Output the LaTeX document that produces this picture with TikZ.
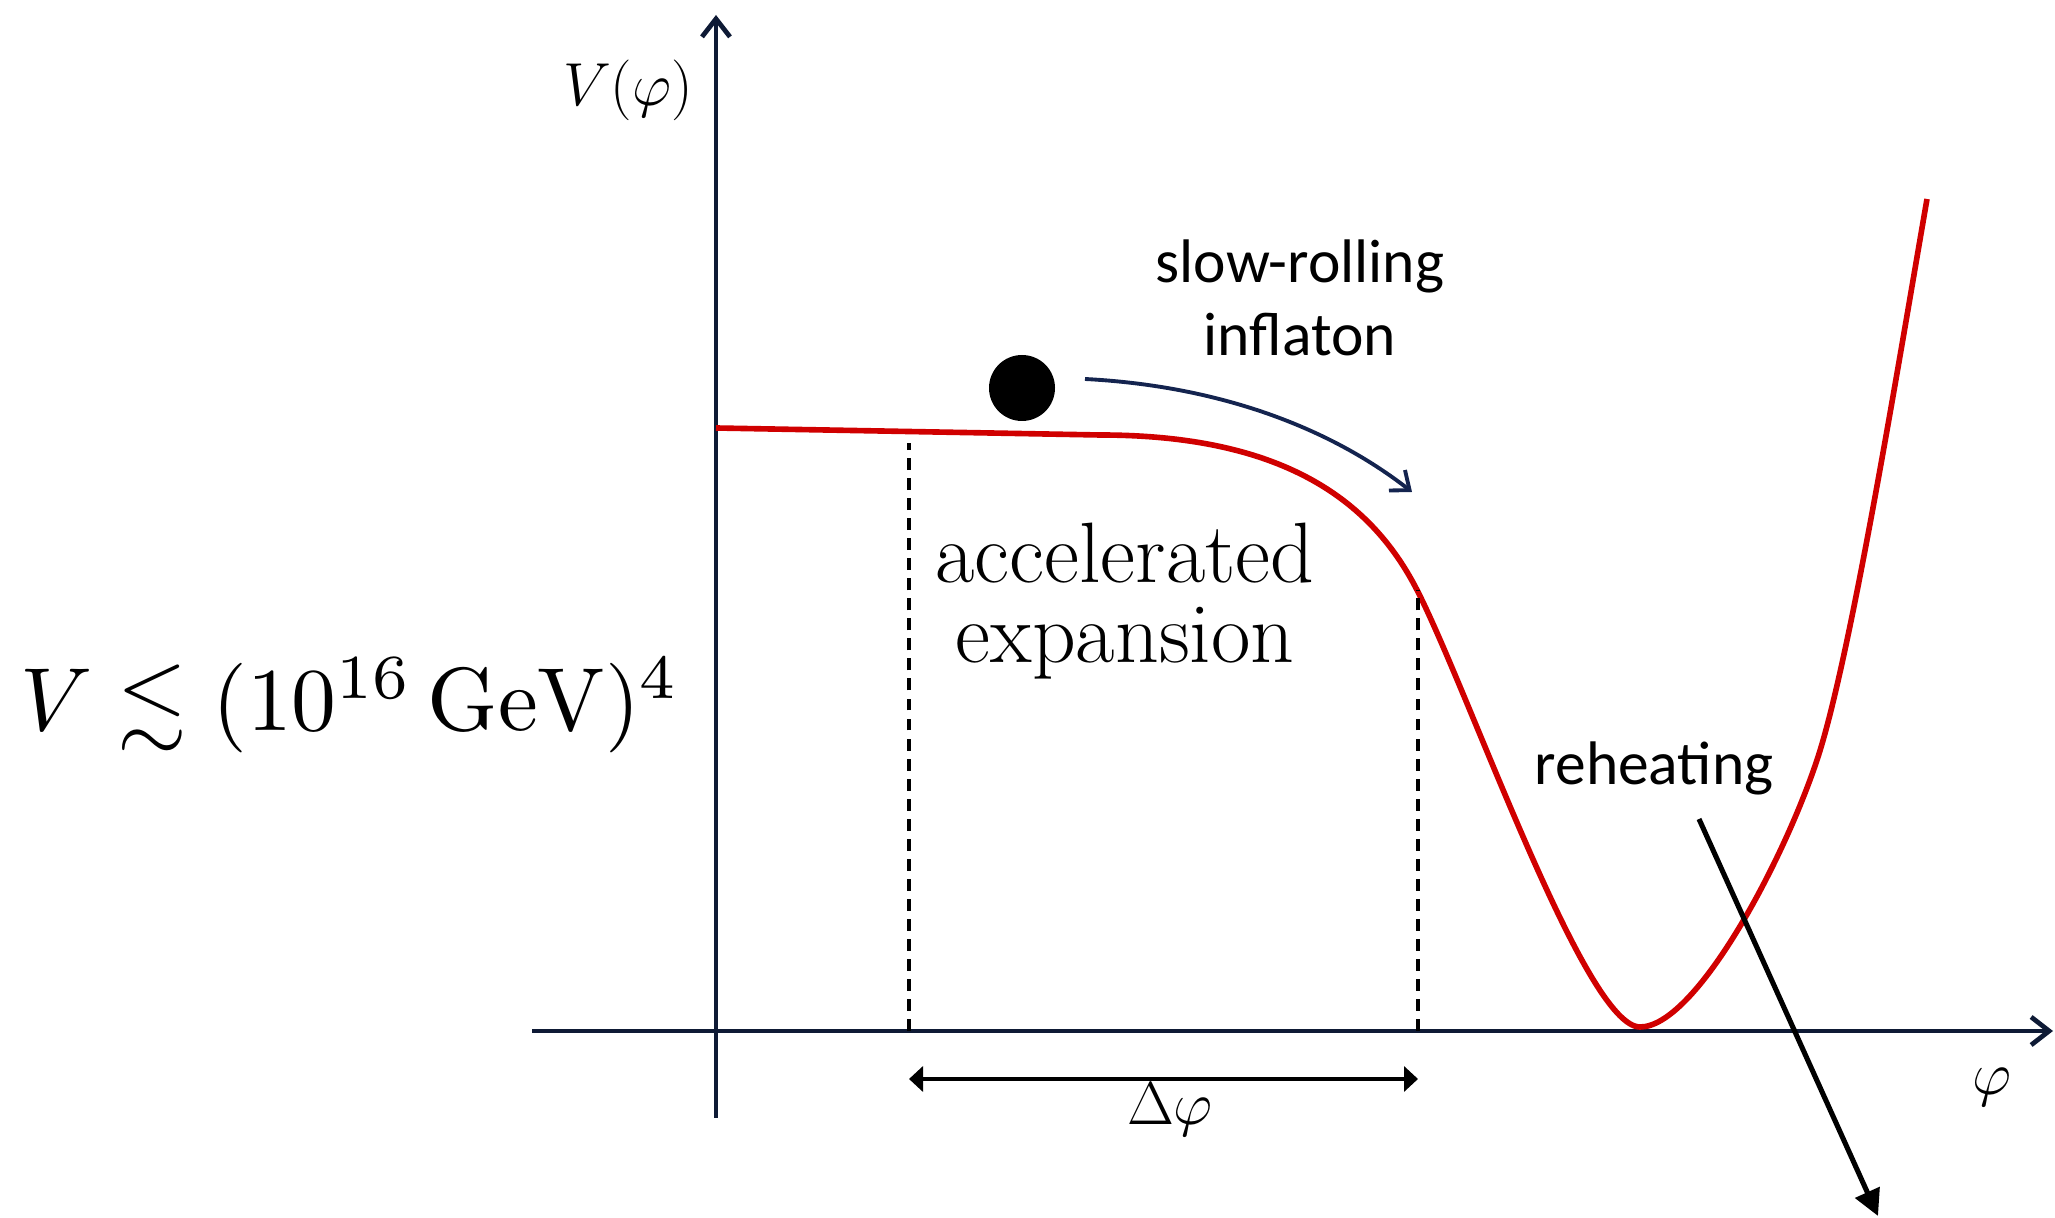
\documentclass[tikz,border=0pt]{standalone}
\usepackage{amsmath,amssymb}
\usepackage{graphicx}
\usepackage{fontspec}
\newfontfamily\calibrifont{Carlito}
\usepackage{tikz}
\usetikzlibrary{arrows.meta}
\definecolor{axisnavy}{HTML}{0E1A35}
\definecolor{potred}{HTML}{D00000}
\definecolor{rollblue}{HTML}{14244F}

\begin{document}
\begin{tikzpicture}[>=Stealth,
  axis/.style={line width=1.35pt,draw=axisnavy,-{Straight Barb[length=1.8mm,width=2.8mm]}},
  potential/.style={line width=1.6pt,draw=potred},
  bound/.style={line width=1.15pt,dash pattern=on 3.4pt off 2.3pt},
  sans/.style={font=\calibrifont\fontsize{17.5}{20.7}\selectfont}]
  \useasboundingbox (0,0) rectangle (20.55,12.18);
  % axes
  \coordinate (ybot) at (7.16,1.00);
  \coordinate (ytop) at (7.16,12.03);
  \coordinate (xleft) at (5.32,1.87);
  \coordinate (xright) at (20.53,1.87);
  \draw[axis] (ybot) -- (ytop);
  \draw[axis] (xleft) -- (xright);
  \node (vlabel) at (6.28,11.28) {\fontsize{17}{20}\selectfont$V(\varphi)$};
  \node (philabel) at (19.92,1.31) {\fontsize{17}{20}\selectfont$\varphi$};
  % potential: plateau, steep fall, reheating well
  \draw[potential]
    (7.16,7.90) -- (11.00,7.83)
      .. controls (12.80,7.83) and (13.70,7.20) .. (14.17,6.28)
      .. controls (14.70,5.24) and (15.85,1.91) .. (16.40,1.91)
      .. controls (16.95,1.91) and (17.82,3.53) .. (18.17,4.58)
      .. controls (18.50,5.57) and (18.98,8.52) .. (19.27,10.19);
  % inflation interval
  \coordinate (dl) at (9.09,1.39);
  \coordinate (dr) at (14.18,1.39);
  \draw[bound] (9.09,1.87) -- (9.09,7.75);
  \draw[bound] (14.18,1.87) -- (14.18,6.28);
  \draw[line width=1pt,{Triangle[length=1.4mm,width=2.5mm]}-{Triangle[length=1.4mm,width=2.5mm]}] (dl) -- (dr);
  \node (dphi) at (11.70,1.08) {\fontsize{17}{20}\selectfont$\Delta\varphi$};
  \node[align=center,font=\fontsize{24.4}{22.9}\selectfont] (accel) at (11.25,6.17)
    {accelerated\\expansion};
  % the inflaton
  \node[circle,fill=black,minimum size=0.66cm,inner sep=0pt] (ball) at (10.22,8.30) {};
  \coordinate (rollstart) at (10.85,8.39);
  \coordinate (rollend) at (14.12,7.26);
  \draw[line width=1.1pt,draw=rollblue,-{Straight Barb[length=1.6mm,width=2.6mm]}]
    (rollstart) .. controls (12.2,8.32) and (13.3,7.90) .. (rollend);
  \node[sans,align=center] (roll) at (13.00,9.20) {slow-rolling\\inflaton};
  \node[sans,anchor=base] (reheat) at (16.54,4.33) {reheating};
  \coordinate (rhstart) at (16.99,3.99);
  \coordinate (rhend) at (18.78,0.02);
  \draw[line width=1.45pt,-{Triangle[length=2.6mm,width=2.6mm]}] (rhstart) -- (rhend);
  % energy scale
  \node[anchor=base west,inner sep=0pt] (scale) at (0.20,4.87)
    {\scalebox{2.55}{$V \lesssim (10^{16}\,\mathrm{GeV})^4$}};
\end{tikzpicture}
\end{document}
